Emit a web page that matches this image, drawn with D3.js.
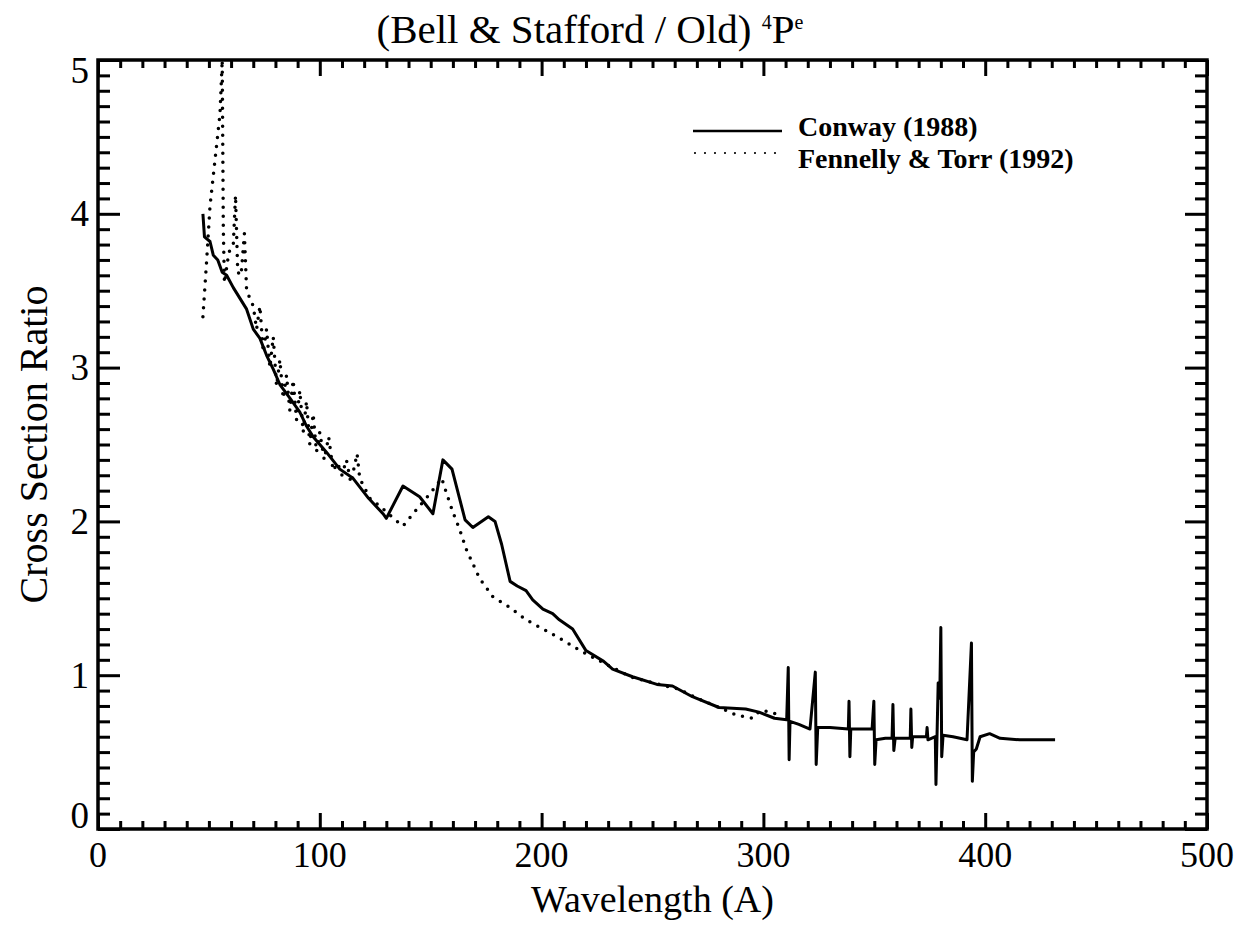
<!DOCTYPE html>
<html>
<head>
<meta charset="utf-8">
<script src="https://cdn.jsdelivr.net/npm/d3@7"></script>
<style>
  html, body { margin: 0; padding: 0; background: #fff; }
  svg text { font-family: "Liberation Serif", "Times New Roman", serif; fill: #000; }
</style>
</head>
<body>
<div id="chart"></div>
<script>
// Conway (1988) -- [wavelength, ratio]
const conway = [
  [47.3, 4.0], [48, 3.85], [50.5, 3.82], [52, 3.73], [54, 3.7], [56, 3.62], [58, 3.6],
  [61, 3.52], [64, 3.45], [67, 3.38], [70, 3.25], [73, 3.19], [76, 3.08], [79, 2.99],
  [82, 2.89], [86.6, 2.8], [91, 2.71], [94, 2.62], [97, 2.55], [103, 2.45], [109, 2.34],
  [115, 2.28], [122, 2.15], [128.5, 2.05], [130, 2.02], [137.5, 2.23], [145, 2.16],
  [151, 2.05], [155.5, 2.4], [159.6, 2.34], [165.5, 2.01], [169, 1.96], [176, 2.03],
  [179, 2.0], [182, 1.85], [185.8, 1.61], [189, 1.58], [193, 1.55], [196, 1.49],
  [200.6, 1.43], [205, 1.4], [208, 1.36], [214, 1.3], [220, 1.16], [228, 1.09],
  [232, 1.04], [241, 0.99], [252, 0.94], [259, 0.93], [268, 0.86], [280, 0.79],
  [292, 0.78], [298, 0.76], [305, 0.72], [310.5, 0.71],
  [311.2, 1.05], [311.6, 0.45], [312, 0.7], [316, 0.68], [321, 0.65],
  [323.4, 1.02], [323.8, 0.42], [324.5, 0.66], [330, 0.66], [338.3, 0.65],
  [338.6, 0.83], [339, 0.47], [339.4, 0.65], [349, 0.65],
  [349.8, 0.83], [350.2, 0.42], [350.8, 0.58], [355, 0.59], [358, 0.59],
  [358.4, 0.81], [358.8, 0.51], [359.4, 0.59], [366.2, 0.59],
  [366.5, 0.78], [366.9, 0.53], [367.3, 0.6], [373.5, 0.6],
  [373.8, 0.66], [374.2, 0.58], [377.5, 0.6], [377.8, 0.29], [378.3, 0.62],
  [378.8, 0.95], [379.5, 0.85], [380, 1.31], [380.4, 0.47], [381, 0.61],
  [385.5, 0.6], [391.8, 0.58], [393.8, 1.21], [394.2, 0.31], [394.8, 0.5],
  [396, 0.52], [397.7, 0.6], [402, 0.62], [406.7, 0.59], [415.6, 0.58], [431.5, 0.58]
];

// Fennelly & Torr (1992)
const fennelly = [
  [47.3, 3.33], [49, 3.7], [50.5, 4.05], [52, 4.25], [53.5, 4.45], [55, 4.65], [56, 5.0],
  [56.5, 3.9], [57, 3.55], [59, 3.75], [61, 3.8], [62, 4.12], [63, 3.62], [64.5, 3.6],
  [66, 3.87], [67, 3.5], [68.5, 3.45], [70, 3.4], [71.5, 3.25], [73, 3.4], [74.5, 3.1],
  [76, 3.25], [77.5, 3.0], [79, 3.2], [80.5, 2.88], [82, 3.05], [83.5, 2.8], [85, 2.95],
  [86.5, 2.72], [88, 2.92], [89.5, 2.66], [91, 2.85], [92.5, 2.58], [94, 2.78],
  [95.5, 2.5], [97, 2.7], [98.5, 2.45], [100, 2.58], [102, 2.4], [104, 2.55],
  [106, 2.33], [108, 2.38], [110, 2.3], [112, 2.4], [114, 2.25], [116.8, 2.44],
  [118, 2.28], [122.6, 2.15], [127, 2.1], [134, 2.01], [137.5, 1.97], [143.8, 2.08],
  [149.7, 2.18], [155, 2.28], [156.5, 2.21], [160, 2.06], [163, 1.95], [166, 1.82],
  [172, 1.63], [178, 1.51], [185.8, 1.44], [193, 1.36], [202, 1.29], [210.5, 1.22],
  [215, 1.18], [220, 1.14], [228, 1.08], [240, 0.99], [255.6, 0.93], [262, 0.91],
  [270, 0.85], [280, 0.79], [288, 0.74], [295, 0.72], [298.5, 0.77], [304, 0.76], [308, 0.73]
];

const xTicks = [0, 100, 200, 300, 400, 500];
const yTicks = [0, 1, 2, 3, 4, 5];
const legendNames = ['Conway (1988)', 'Fennelly & Torr (1992)'];

const width = 1243, height = 930;
const m = { left: 98, right: 1207, top: 60, bottom: 829 };

const svg = d3.select('#chart').append('svg')
  .attr('width', width)
  .attr('height', height);

const x = d3.scaleLinear().domain([0, 500]).range([m.left, m.right]);
const y = d3.scaleLinear().domain([0, 5]).range([m.bottom, m.top]);

const xMinor = d3.range(0, 501, 10).filter(v => v % 100 !== 0);
const yMinor = d3.range(0, 51, 1).filter(v => v % 10 !== 0).map(v => v / 10);

function styleAxis(g) {
  g.select('.domain').remove();
  g.selectAll('.tick line').attr('stroke', '#000').attr('stroke-width', 3);
}

// bottom / top axes
svg.append('g').attr('transform', `translate(0,${m.bottom})`)
  .call(d3.axisBottom(x).tickValues(xTicks).tickSizeInner(-16).tickSizeOuter(0).tickFormat(''))
  .call(styleAxis);
svg.append('g').attr('transform', `translate(0,${m.bottom})`)
  .call(d3.axisBottom(x).tickValues(xMinor).tickSizeInner(-8).tickSizeOuter(0).tickFormat(''))
  .call(styleAxis);
svg.append('g').attr('transform', `translate(0,${m.top})`)
  .call(d3.axisTop(x).tickValues(xTicks).tickSizeInner(-16).tickSizeOuter(0).tickFormat(''))
  .call(styleAxis);
svg.append('g').attr('transform', `translate(0,${m.top})`)
  .call(d3.axisTop(x).tickValues(xMinor).tickSizeInner(-8).tickSizeOuter(0).tickFormat(''))
  .call(styleAxis);

// left / right axes
svg.append('g').attr('transform', `translate(${m.left},0)`)
  .call(d3.axisLeft(y).tickValues(yTicks).tickSizeInner(-22).tickSizeOuter(0).tickFormat(''))
  .call(styleAxis);
svg.append('g').attr('transform', `translate(${m.left},0)`)
  .call(d3.axisLeft(y).tickValues(yMinor).tickSizeInner(-12).tickSizeOuter(0).tickFormat(''))
  .call(styleAxis);
svg.append('g').attr('transform', `translate(${m.right},0)`)
  .call(d3.axisRight(y).tickValues(yTicks).tickSizeInner(-22).tickSizeOuter(0).tickFormat(''))
  .call(styleAxis);
svg.append('g').attr('transform', `translate(${m.right},0)`)
  .call(d3.axisRight(y).tickValues(yMinor).tickSizeInner(-12).tickSizeOuter(0).tickFormat(''))
  .call(styleAxis);

// frame
svg.append('rect')
  .attr('x', m.left).attr('y', m.top)
  .attr('width', m.right - m.left).attr('height', m.bottom - m.top)
  .attr('fill', 'none').attr('stroke', '#000').attr('stroke-width', 3.5);

// tick labels
svg.selectAll('.xlab').data(xTicks).enter().append('text')
  .attr('x', d => x(d)).attr('y', 867)
  .attr('text-anchor', 'middle').attr('font-size', 36)
  .text(d => d);

svg.selectAll('.ylab').data(yTicks).enter().append('text')
  .attr('x', 89)
  .attr('y', d => y(d) + (d === 0 ? -14 : d === 5 ? 10 : 0))
  .attr('dy', '0.34em')
  .attr('text-anchor', 'end').attr('font-size', 37)
  .text(d => d);

// titles
const title = svg.append('text')
  .attr('x', 590).attr('y', 43)
  .attr('text-anchor', 'middle').attr('font-size', 41);
title.append('tspan').text('(Bell & Stafford / Old) ');
title.append('tspan').attr('font-size', 20).attr('dy', -14).text('4');
title.append('tspan').attr('dy', 14).text('P');
title.append('tspan').attr('font-size', 20).attr('dy', -14).text('e');

svg.append('text')
  .attr('x', (m.left + m.right) / 2).attr('y', 912)
  .attr('text-anchor', 'middle').attr('font-size', 38)
  .text('Wavelength (A)');

svg.append('text')
  .attr('transform', `translate(47,${(m.top + m.bottom) / 2}) rotate(-90)`)
  .attr('text-anchor', 'middle').attr('font-size', 40)
  .text('Cross Section Ratio');

// data lines
const line = d3.line().x(d => x(d[0])).y(d => y(d[1]));

svg.append('path')
  .datum(fennelly)
  .attr('d', line)
  .attr('fill', 'none').attr('stroke', '#000')
  .attr('stroke-width', 3.5).attr('stroke-linecap', 'round')
  .attr('stroke-dasharray', '0 9');

svg.append('path')
  .datum(conway)
  .attr('d', line)
  .attr('fill', 'none').attr('stroke', '#000')
  .attr('stroke-width', 3).attr('stroke-linejoin', 'round');

// legend
const legend = svg.append('g');
legend.append('line')
  .attr('x1', 693).attr('x2', 782).attr('y1', 131).attr('y2', 131)
  .attr('stroke', '#000').attr('stroke-width', 2.5);
legend.append('line')
  .attr('x1', 695).attr('x2', 782).attr('y1', 153).attr('y2', 153)
  .attr('stroke', '#000').attr('stroke-width', 2.2)
  .attr('stroke-linecap', 'round').attr('stroke-dasharray', '0 10');
legend.selectAll('.lt').data(legendNames).enter().append('text')
  .attr('x', 798).attr('y', (d, i) => 136 + i * 32)
  .attr('font-size', 28).attr('font-weight', 'bold')
  .text(d => d);
</script>
</body>
</html>
